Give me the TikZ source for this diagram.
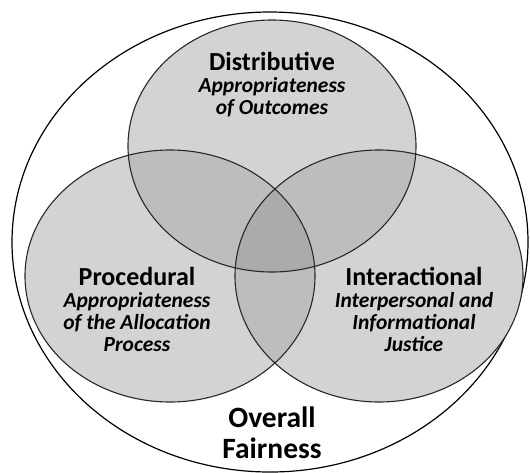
\documentclass[tikz,border=0pt]{standalone}
\usepackage{fontspec}
\setmainfont{Carlito}

\definecolor{cone}{RGB}{211,211,211}
\definecolor{ctwo}{RGB}{189,189,189}
\definecolor{cthree}{RGB}{171,171,171}
\definecolor{cline}{RGB}{40,40,40}

% the three justice sets
\newcommand{\distpath}{(272,146) ellipse (144 and 126)}
\newcommand{\procpath}{(170,276) ellipse (145 and 126)}
\newcommand{\interpath}{(379,276) ellipse (144 and 126)}

\begin{document}
\begin{tikzpicture}[x=1pt,y=-1pt,
        ring/.style={draw=cline,line width=1.1pt},
        settitle/.style={font=\bfseries\fontsize{26}{22}\selectfont,inner sep=0pt,anchor=base},
        setsub/.style={font=\bfseries\itshape\fontsize{21.5}{21.8}\selectfont,align=center,inner sep=0pt,anchor=north}]

      \useasboundingbox (0,0) rectangle (530,472);

      \draw[line width=1.2pt] (270,242) ellipse (258 and 230);        % overall

      \fill[cone] \distpath;
      \fill[cone] \procpath;
      \fill[cone] \interpath;
      \begin{scope}
        \clip \distpath;
        \fill[ctwo] \procpath;
        \fill[ctwo] \interpath;
      \end{scope}
      \begin{scope}
        \clip \procpath;
        \fill[ctwo] \interpath;
      \end{scope}
      \begin{scope}
        \clip \distpath;
        \clip \procpath;
        \fill[cthree] \interpath;
      \end{scope}
      \draw[ring] \distpath;
      \draw[ring] \procpath;
      \draw[ring] \interpath;

      \node[settitle] (dist)     at (272,70)  {Distributive};
      \node[setsub]   (distsub)  at (272,77.5)  {Appropriateness\\of Outcomes};
      \node[settitle] (proc)     at (137,285) {Procedural};
      \node[setsub]   (procsub)  at (137,292.5) {Appropriateness\\of the Allocation\\Process};
      \node[settitle] (inter)    at (414,285) {Interactional};
      \node[setsub]   (intersub) at (414,292.5) {Interpersonal and\\Informational\\Justice};
      \node[settitle,align=center,anchor=north,font=\bfseries\fontsize{29.5}{30.5}\selectfont]
        (overall) at (272,407) {Overall\\Fairness};
    \end{tikzpicture}
\end{document}
